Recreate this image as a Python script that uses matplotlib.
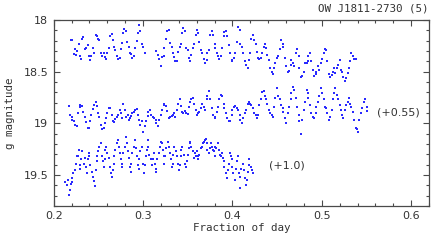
import matplotlib
matplotlib.use('Agg')
import matplotlib.pyplot as plt
from matplotlib.ticker import MultipleLocator

# top light curve (no offset)
top_x = [0.219, 0.221, 0.223, 0.224, 0.225, 0.226, 0.228, 0.229, 0.231, 0.232, 0.233, 0.235, 0.236, 0.238, 0.239,
         0.241, 0.242, 0.244, 0.245, 0.247, 0.248, 0.250, 0.251, 0.253, 0.254, 0.256, 0.257, 0.259, 0.260, 0.262,
         0.263, 0.265, 0.266, 0.268, 0.269, 0.271, 0.272, 0.274, 0.275, 0.277, 0.278, 0.279, 0.281, 0.282, 0.284,
         0.285, 0.287, 0.288, 0.290, 0.291, 0.293, 0.294, 0.296, 0.297, 0.299, 0.300, 0.302,
         0.315, 0.317, 0.318, 0.320, 0.321, 0.323, 0.324, 0.326, 0.327, 0.329, 0.330, 0.332, 0.333, 0.335, 0.336,
         0.338, 0.339, 0.341, 0.342, 0.344, 0.345, 0.347, 0.348, 0.350, 0.351, 0.353, 0.354, 0.356, 0.357, 0.359,
         0.360, 0.362, 0.363, 0.365, 0.366, 0.368, 0.369, 0.371, 0.372, 0.374, 0.375, 0.377, 0.378, 0.380, 0.381,
         0.383, 0.384, 0.385, 0.387, 0.388, 0.390, 0.391, 0.393, 0.394, 0.396, 0.397, 0.399, 0.400, 0.402, 0.403,
         0.405, 0.406, 0.408, 0.409, 0.411, 0.412, 0.414, 0.415, 0.417, 0.418, 0.420, 0.421, 0.423, 0.424, 0.426,
         0.427, 0.429, 0.430, 0.432, 0.433, 0.435, 0.436, 0.438, 0.439, 0.441, 0.442, 0.444, 0.445, 0.447, 0.448,
         0.450, 0.451, 0.453, 0.454, 0.456, 0.457, 0.459, 0.460, 0.462, 0.463, 0.465, 0.466, 0.468, 0.469, 0.471,
         0.472, 0.474, 0.475, 0.477, 0.478, 0.480, 0.481, 0.483, 0.484, 0.485, 0.487, 0.488, 0.490, 0.491, 0.493,
         0.494, 0.496, 0.497, 0.499, 0.500, 0.502, 0.503, 0.505, 0.506, 0.508, 0.509, 0.511, 0.512, 0.514, 0.515,
         0.517, 0.518, 0.520, 0.521, 0.523, 0.524, 0.526, 0.527, 0.529, 0.530, 0.532, 0.533, 0.535, 0.536, 0.538]
top_mag = [18.19, 18.19, 18.33, 18.28, 18.34, 18.30, 18.23, 18.35, 18.38, 18.18, 18.17, 18.28, 18.27, 18.24, 18.35,
           18.39, 18.35, 18.27, 18.32, 18.15, 18.16, 18.18, 18.19, 18.32, 18.35, 18.32, 18.36, 18.38, 18.32, 18.27,
           18.16, 18.14, 18.19, 18.26, 18.29, 18.35, 18.38, 18.37, 18.28, 18.22, 18.13, 18.09, 18.11, 18.21, 18.26,
           18.32, 18.33, 18.37, 18.35, 18.27, 18.20, 18.13, 18.05, 18.11, 18.23, 18.26, 18.32,
           18.30, 18.34, 18.38, 18.45, 18.36, 18.35, 18.27, 18.18, 18.11, 18.10, 18.22, 18.26, 18.32, 18.36, 18.40,
           18.40, 18.31, 18.26, 18.23, 18.13, 18.08, 18.11, 18.27, 18.29, 18.37, 18.40, 18.34, 18.27, 18.23, 18.15,
           18.10, 18.13, 18.21, 18.29, 18.32, 18.38, 18.42, 18.39, 18.32, 18.29, 18.15, 18.11, 18.15, 18.23, 18.27,
           18.32, 18.35, 18.38, 18.35, 18.27, 18.16, 18.12, 18.11, 18.16, 18.24, 18.32, 18.39, 18.40, 18.37, 18.32,
           18.21, 18.07, 18.10, 18.23, 18.26, 18.32, 18.40, 18.44, 18.47, 18.39, 18.32, 18.18, 18.15, 18.19, 18.23,
           18.31, 18.37, 18.38, 18.37, 18.32, 18.26, 18.23, 18.27, 18.34, 18.39, 18.47, 18.50, 18.52, 18.47, 18.42,
           18.37, 18.35, 18.28, 18.19, 18.23, 18.26, 18.37, 18.45, 18.50, 18.49, 18.44, 18.39, 18.42, 18.45, 18.32,
           18.28, 18.35, 18.47, 18.55, 18.54, 18.50, 18.42, 18.42, 18.40, 18.35, 18.32, 18.40, 18.48, 18.54, 18.52,
           18.50, 18.45, 18.48, 18.42, 18.38, 18.32, 18.28, 18.29, 18.40, 18.52, 18.55, 18.53, 18.50, 18.47, 18.51,
           18.47, 18.44, 18.39, 18.48, 18.50, 18.55, 18.59, 18.56, 18.51, 18.47, 18.40, 18.32, 18.35, 18.38, 18.38]

# middle light curve (+0.55)
mid_x = [0.217, 0.218, 0.220, 0.221, 0.223, 0.224, 0.226, 0.227, 0.229, 0.230, 0.232, 0.233, 0.235, 0.236, 0.238,
         0.239, 0.241, 0.242, 0.244, 0.245, 0.247, 0.248, 0.250, 0.251, 0.253, 0.254, 0.256, 0.257, 0.259, 0.260,
         0.262, 0.263, 0.265, 0.266, 0.268, 0.269, 0.271, 0.272, 0.274, 0.275, 0.277, 0.278, 0.280, 0.281, 0.283,
         0.284, 0.285, 0.287, 0.288, 0.290, 0.291, 0.293, 0.294, 0.296, 0.297, 0.299, 0.300, 0.302, 0.303, 0.305,
         0.306, 0.308, 0.309, 0.311, 0.312, 0.314, 0.315, 0.317, 0.318, 0.320, 0.321, 0.323, 0.324, 0.326, 0.327,
         0.329, 0.330, 0.332, 0.333, 0.335, 0.336, 0.338, 0.339, 0.341, 0.342, 0.344, 0.345, 0.347, 0.348, 0.350,
         0.351, 0.353, 0.354, 0.356, 0.357, 0.359, 0.360, 0.362, 0.363, 0.365, 0.366, 0.368, 0.369, 0.371, 0.372,
         0.374, 0.375, 0.377, 0.378, 0.380, 0.381, 0.383, 0.384, 0.385, 0.387, 0.388, 0.390, 0.391, 0.393, 0.394,
         0.396, 0.397, 0.399, 0.400, 0.402, 0.403, 0.405, 0.406, 0.408, 0.409, 0.411, 0.412, 0.414, 0.415, 0.417,
         0.418, 0.420, 0.421, 0.423, 0.424, 0.426, 0.427, 0.429, 0.430, 0.432, 0.433, 0.435, 0.436, 0.438, 0.439,
         0.441, 0.442, 0.444, 0.445, 0.447, 0.448, 0.450, 0.451, 0.453, 0.454, 0.456, 0.457, 0.459, 0.460, 0.462,
         0.463, 0.465, 0.466, 0.468, 0.469, 0.471, 0.472, 0.474, 0.475, 0.477, 0.478, 0.480, 0.481, 0.483, 0.484,
         0.485, 0.487, 0.488, 0.490, 0.491, 0.493, 0.494, 0.496, 0.497, 0.499, 0.500, 0.502, 0.503, 0.505, 0.506,
         0.508, 0.509, 0.511, 0.512, 0.514, 0.515, 0.517, 0.518, 0.520, 0.521, 0.523, 0.524, 0.526, 0.527, 0.529,
         0.530, 0.532, 0.533, 0.535, 0.536, 0.538, 0.539, 0.541, 0.542, 0.544, 0.545, 0.547, 0.548, 0.550, 0.551]
mid_mag = [18.83, 18.92, 18.97, 18.94, 18.98, 19.02, 19.03, 18.90, 18.84, 18.82, 18.83, 18.89, 18.94, 18.99, 19.05,
           19.05, 18.98, 18.92, 18.86, 18.82, 18.79, 18.83, 18.90, 18.94, 19.02, 19.06, 19.05, 19.00, 18.95, 18.90,
           18.85, 18.85, 18.92, 18.98, 18.99, 18.96, 18.94, 18.92, 18.87, 18.90, 18.95, 18.81, 18.87, 18.94, 18.92,
           18.97, 18.95, 18.93, 18.90, 18.89, 18.87, 18.86, 18.92, 18.97, 19.02, 18.98, 19.08, 19.03, 18.98, 18.93,
           18.89, 18.87, 18.92, 18.94, 18.95, 18.97, 19.00, 19.03, 18.97, 18.92, 18.87, 18.82, 18.81, 18.83, 18.88,
           18.95, 18.94, 18.93, 18.92, 18.90, 18.94, 18.87, 18.81, 18.77, 18.83, 18.89, 18.90, 18.88, 18.90, 18.91,
           18.84, 18.79, 18.77, 18.76, 18.81, 18.87, 18.92, 18.90, 18.89, 18.85, 18.81, 18.84, 18.87, 18.77, 18.74,
           18.69, 18.77, 18.85, 18.92, 18.95, 18.94, 18.89, 18.84, 18.77, 18.73, 18.74, 18.81, 18.85, 18.90, 18.95,
           18.98, 18.98, 18.92, 18.87, 18.84, 18.83, 18.85, 18.87, 18.92, 18.97, 19.00, 18.95, 18.90, 18.87, 18.81,
           18.79, 18.81, 18.82, 18.85, 18.90, 18.92, 18.95, 18.92, 18.82, 18.77, 18.70, 18.69, 18.74, 18.77, 18.81,
           18.87, 18.90, 18.92, 18.94, 18.84, 18.76, 18.66, 18.74, 18.77, 18.82, 18.85, 18.89, 18.95, 19.00, 18.90,
           18.84, 18.77, 18.71, 18.65, 18.68, 18.76, 18.84, 18.92, 18.98, 19.10, 18.97, 18.87, 18.79, 18.68, 18.71,
           18.76, 18.82, 18.90, 18.94, 18.95, 18.90, 18.84, 18.79, 18.74, 18.66, 18.71, 18.77, 18.84, 18.85, 18.90,
           18.97, 18.94, 18.87, 18.77, 18.71, 18.66, 18.73, 18.77, 18.82, 18.87, 18.92, 18.95, 18.87, 18.82, 18.79,
           18.76, 18.81, 18.84, 18.89, 18.97, 19.05, 19.06, 19.08, 18.97, 18.90, 18.85, 18.79, 18.77, 18.84, 18.88]

# bottom light curve (+1.0)
bot_x = [0.213, 0.215, 0.216, 0.217, 0.218, 0.219, 0.220, 0.221, 0.222, 0.224, 0.225, 0.226, 0.227, 0.228, 0.229,
         0.230, 0.231, 0.232, 0.234, 0.235, 0.236, 0.237, 0.238, 0.239, 0.240, 0.241, 0.243, 0.244, 0.245, 0.246,
         0.247, 0.248, 0.249, 0.250, 0.251, 0.253, 0.254, 0.255, 0.256, 0.257, 0.258, 0.259, 0.260, 0.262, 0.263,
         0.264, 0.265, 0.266, 0.267, 0.268, 0.269, 0.271, 0.272, 0.273, 0.274, 0.275, 0.276, 0.277, 0.278, 0.280,
         0.281, 0.282, 0.283, 0.284, 0.285, 0.286, 0.287, 0.288, 0.290, 0.291, 0.292, 0.293, 0.294, 0.295, 0.296,
         0.297, 0.299, 0.300, 0.301, 0.302, 0.303, 0.304, 0.305, 0.306, 0.307, 0.309, 0.310, 0.311, 0.312, 0.313,
         0.314, 0.315, 0.316, 0.318, 0.319, 0.320, 0.321, 0.322, 0.323, 0.324, 0.325, 0.326, 0.328, 0.329, 0.330,
         0.331, 0.332, 0.333, 0.334, 0.335, 0.337, 0.338, 0.339, 0.340, 0.341, 0.342, 0.343, 0.344, 0.346, 0.347,
         0.348, 0.349, 0.350, 0.351, 0.352, 0.353, 0.354, 0.356, 0.357, 0.358, 0.359, 0.360, 0.361, 0.362, 0.363,
         0.365, 0.366, 0.367, 0.368, 0.369, 0.370, 0.371, 0.372, 0.374, 0.375, 0.376, 0.377, 0.378, 0.379, 0.380,
         0.381, 0.382, 0.384, 0.385, 0.386, 0.387, 0.388, 0.389, 0.390, 0.391, 0.393, 0.394, 0.395, 0.396, 0.397,
         0.398, 0.399, 0.400, 0.401, 0.403, 0.404, 0.405, 0.406, 0.407, 0.408, 0.409, 0.410, 0.412, 0.413, 0.414,
         0.415, 0.416, 0.417, 0.418, 0.419, 0.421, 0.422, 0.423]
bot_mag = [19.57, 19.60, 19.55, 19.69, 19.65, 19.59, 19.57, 19.53, 19.48, 19.45, 19.39, 19.32, 19.32, 19.26, 19.44,
           19.40, 19.35, 19.27, 19.39, 19.34, 19.42, 19.48, 19.35, 19.29, 19.32, 19.40, 19.47, 19.52, 19.56, 19.61,
           19.45, 19.37, 19.32, 19.27, 19.23, 19.19, 19.32, 19.37, 19.42, 19.35, 19.26, 19.23, 19.29, 19.34, 19.42,
           19.48, 19.52, 19.45, 19.39, 19.32, 19.26, 19.19, 19.16, 19.23, 19.29, 19.35, 19.42, 19.39, 19.29, 19.23,
           19.13, 19.19, 19.27, 19.34, 19.42, 19.47, 19.39, 19.29, 19.23, 19.16, 19.24, 19.32, 19.40, 19.44, 19.35,
           19.27, 19.23, 19.39, 19.48, 19.40, 19.32, 19.26, 19.16, 19.23, 19.31, 19.35, 19.40, 19.35, 19.29, 19.39,
           19.47, 19.44, 19.35, 19.29, 19.23, 19.18, 19.19, 19.26, 19.32, 19.39, 19.32, 19.24, 19.18, 19.23, 19.29,
           19.35, 19.42, 19.39, 19.31, 19.23, 19.27, 19.32, 19.39, 19.45, 19.40, 19.32, 19.26, 19.23, 19.31, 19.39,
           19.42, 19.37, 19.31, 19.24, 19.19, 19.18, 19.23, 19.27, 19.34, 19.29, 19.32, 19.27, 19.32, 19.35, 19.31,
           19.24, 19.23, 19.19, 19.18, 19.16, 19.15, 19.19, 19.26, 19.29, 19.24, 19.19, 19.23, 19.26, 19.27, 19.32,
           19.23, 19.24, 19.19, 19.26, 19.31, 19.32, 19.29, 19.34, 19.37, 19.42, 19.48, 19.53, 19.45, 19.39, 19.29,
           19.32, 19.35, 19.42, 19.48, 19.55, 19.44, 19.37, 19.32, 19.48, 19.63, 19.52, 19.44, 19.39, 19.45, 19.53,
           19.60, 19.55, 19.47, 19.40, 19.35, 19.42, 19.45, 19.48]

title = 'OW J1811-2730 (5)'
offset_labels = ['(+0.55)', '(+1.0)']

fig = plt.figure(figsize=(4.47, 2.40), dpi=100)
ax = fig.add_axes([0.120, 0.142, 0.840, 0.775])

dot_color = '#2a2aff'
for xs, ys in [(top_x, top_mag), (mid_x, mid_mag), (bot_x, bot_mag)]:
    ax.plot(xs, ys, 's', ms=1.5, mew=0, color=dot_color)

ax.set_xlim(0.2, 0.62)
ax.set_ylim(19.8, 18.0)
ax.xaxis.set_major_locator(MultipleLocator(0.1))
ax.xaxis.set_minor_locator(MultipleLocator(0.02))
ax.yaxis.set_major_locator(MultipleLocator(0.5))
ax.yaxis.set_minor_locator(MultipleLocator(0.1))
ax.xaxis.set_major_formatter(matplotlib.ticker.FormatStrFormatter('%.1f'))
ax.yaxis.set_major_formatter(matplotlib.ticker.FuncFormatter(lambda v, p: ('%g' % v)))

edge = '#4a4a4a'
for s in ax.spines.values():
    s.set_color(edge)
    s.set_linewidth(0.9)
ax.tick_params(which='both', direction='in', top=True, right=True, colors=edge,
               labelcolor='#333333', labelsize=8, width=0.8)
ax.tick_params(which='major', length=4.5, pad=4)
ax.tick_params(which='minor', length=2.5)

mono = ['DejaVu Sans Mono']
ax.set_xlabel('Fraction of day', fontsize=7.8, family=mono, color='#333333', labelpad=1)
ax.set_ylabel('g magnitude', fontsize=7.8, family=mono, color='#333333', labelpad=6)
fig.text(0.958, 0.965, title, ha='right', va='center', fontsize=7.8, family=mono, color='#333333')

ax.text(0.5616, 18.90, offset_labels[0], ha='left', va='center', fontsize=8, color='#333333')
ax.text(0.4414, 19.41, offset_labels[1], ha='left', va='center', fontsize=8, color='#333333')

fig.savefig('out.png', dpi=100)
